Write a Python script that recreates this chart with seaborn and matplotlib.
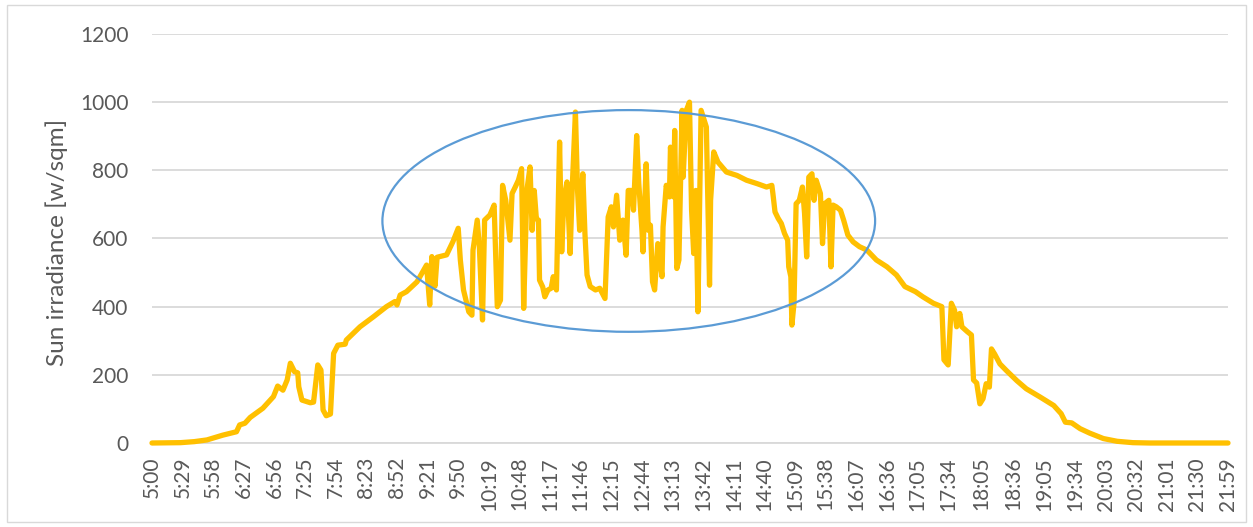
import matplotlib
matplotlib.use("Agg")
import matplotlib.pyplot as plt
from matplotlib.patches import Ellipse, Rectangle
import seaborn as sns
import pandas as pd

# Sampled irradiance readings over the day (local time, W/m^2)
times = [
    "5:00", "5:27", "5:40", "5:52", "6:07", "6:20", "6:23", "6:28", "6:33", "6:45",
    "6:55", "6:59", "7:04", "7:08", "7:11", "7:15", "7:18", "7:19", "7:22", "7:30",
    "7:33", "7:37", "7:40", "7:42", "7:45", "7:49", "7:52", "7:56", "8:03", "8:04",
    "8:17", "8:30", "8:42", "8:50", "8:52", "8:55", "9:01", "9:11", "9:20", "9:23",
    "9:25", "9:28", "9:30", "9:39", "9:45", "9:50", "9:52", "9:55", "10:00", "10:03",
    "10:04", "10:08", "10:10", "10:13", "10:15", "10:20", "10:24", "10:27", "10:30", "10:32",
    "10:35", "10:39", "10:41", "10:44", "10:47", "10:50", "10:52", "10:55", "10:58", "11:00",
    "11:02", "11:04", "11:06", "11:07", "11:10", "11:12", "11:15", "11:18", "11:20", "11:23",
    "11:26", "11:28", "11:30", "11:33", "11:36", "11:38", "11:41", "11:43", "11:45", "11:48",
    "11:50", "11:52", "11:55", "12:00", "12:04", "12:09", "12:12", "12:15", "12:17", "12:20",
    "12:23", "12:26", "12:29", "12:31", "12:34", "12:36", "12:39", "12:41", "12:44", "12:45",
    "12:48", "12:50", "12:52", "12:54", "12:56", "12:59", "13:03", "13:04", "13:07", "13:10",
    "13:11", "13:14", "13:15", "13:17", "13:19", "13:22", "13:23", "13:26", "13:29", "13:31",
    "13:33", "13:35", "13:37", "13:40", "13:42", "13:45", "13:48", "13:49", "13:52", "13:56",
    "14:04", "14:14", "14:23", "14:33", "14:42", "14:47", "14:48", "14:50", "14:53", "14:56",
    "14:59", "15:02", "15:03", "15:05", "15:06", "15:08", "15:10", "15:13", "15:16", "15:18",
    "15:20", "15:22", "15:25", "15:27", "15:29", "15:33", "15:35", "15:37", "15:41", "15:43",
    "15:45", "15:48", "15:52", "15:55", "15:59", "16:04", "16:10", "16:17", "16:26", "16:36",
    "16:45", "16:53", "17:03", "17:10", "17:20", "17:28", "17:30", "17:34", "17:37", "17:40",
    "17:42", "17:45", "17:47", "17:52", "17:56", "17:58", "18:01", "18:04", "18:07", "18:10",
    "18:13", "18:15", "18:18", "18:23", "18:29", "18:39", "18:48", "19:01", "19:14", "19:21",
    "19:25", "19:31", "19:39", "19:48", "20:01", "20:14", "20:29", "20:45", "21:59",
]
irradiance = [
    0, 1, 4, 9, 23, 33, 53, 58, 75, 102,
    136, 167, 155, 185, 234, 209, 206, 165, 126, 118,
    120, 229, 214, 97, 80, 85, 263, 287, 290, 302,
    341, 371, 400, 415, 405, 434, 444, 473, 522, 405,
    547, 460, 545, 552, 591, 630, 537, 449, 385, 375,
    566, 654, 576, 361, 654, 669, 698, 400, 419, 756,
    712, 595, 732, 751, 771, 805, 395, 741, 810, 624,
    741, 658, 654, 478, 458, 429, 449, 454, 488, 449,
    883, 561, 712, 766, 556, 751, 971, 741, 624, 790,
    615, 493, 459, 449, 454, 424, 663, 693, 634, 727,
    595, 654, 551, 741, 741, 683, 902, 761, 624, 561,
    819, 624, 639, 473, 449, 585, 488, 634, 756, 722,
    868, 722, 917, 512, 537, 976, 780, 976, 1000, 683,
    556, 741, 385, 976, 956, 927, 463, 712, 854, 824,
    795, 785, 771, 761, 751, 756, 732, 678, 659, 644,
    615, 595, 517, 488, 346, 410, 702, 712, 751, 673,
    546, 780, 790, 712, 771, 732, 585, 702, 712, 517,
    698, 693, 683, 654, 610, 590, 576, 566, 537, 517,
    493, 459, 444, 429, 410, 400, 244, 229, 410, 390,
    341, 380, 341, 327, 317, 185, 176, 115, 130, 174,
    164, 276, 261, 232, 213, 183, 159, 135, 110, 86,
    61, 59, 42, 29, 13, 5, 1, 0, 0,
]

# Axis labels along the time axis
tick_labels = [
    "5:00", "5:29", "5:58", "6:27", "6:56", "7:25", "7:54", "8:23", "8:52", "9:21",
    "9:50", "10:19", "10:48", "11:17", "11:46", "12:15", "12:44", "13:13", "13:42", "14:11",
    "14:40", "15:09", "15:38", "16:07", "16:36", "17:05", "17:34", "18:05", "18:36", "19:05",
    "19:34", "20:03", "20:32", "21:01", "21:30", "21:59",
]
y_ticks = [0, 200, 400, 600, 800, 1000, 1200]


def minutes_since_start(t):
    h, m = t.split(":")
    return (int(h) - 5) * 60 + int(m)


df = pd.DataFrame({
    "minute": [minutes_since_start(t) for t in times],
    "irradiance": irradiance,
})

sns.set_theme(style="white")
plt.rcParams["font.family"] = ["Lato", "DejaVu Sans"]

TEXT = "#595959"
GRID = "#D9D9D9"

fig = plt.figure(figsize=(12.53, 5.27), dpi=100)
ax = fig.add_axes([152 / 1253, 1 - 443 / 527, (1228 - 152) / 1253, (443 - 34) / 527])

sns.lineplot(data=df, x="minute", y="irradiance", ax=ax, color="#FFC000",
             linewidth=3.8, sort=False, estimator=None, clip_on=False, zorder=3)

# Highlight of the fluctuating midday period
ax.add_patch(Ellipse((451.5, 651.5), width=466.6, height=650.5, fill=False,
                     edgecolor="#5B9BD5", linewidth=1.6, zorder=4))

ax.set_xlim(0, minutes_since_start("21:59"))
ax.set_ylim(0, 1200)
ax.set_yticks(y_ticks)
ax.set_yticklabels([str(v) for v in y_ticks])
ax.set_xticks([minutes_since_start(t) for t in tick_labels])
ax.set_xticklabels(tick_labels, rotation=90)

ax.grid(axis="y", color=GRID, linewidth=1.3)
ax.grid(axis="x", visible=False)
for side in ["left", "right", "top"]:
    ax.spines[side].set_visible(False)
ax.spines["bottom"].set_color(GRID)
ax.spines["bottom"].set_linewidth(1.3)
ax.tick_params(axis="both", length=0, labelsize=15, labelcolor=TEXT)
ax.tick_params(axis="y", pad=17)
ax.tick_params(axis="x", pad=10)

ax.set_xlabel("")
ax.set_ylabel("Sun irradiance [w/sqm]", fontsize=17.5, color=TEXT)
ax.yaxis.set_label_coords((68 - 152) / 1076, (443 - 242) / 409)

# Thin frame around the whole chart
fig.patches.append(Rectangle((7 / 1253, 5 / 527), (1246 - 7) / 1253, (522 - 5) / 527,
                             transform=fig.transFigure, fill=False,
                             edgecolor=GRID, linewidth=1.0))

fig.savefig("out.png", dpi=100)
